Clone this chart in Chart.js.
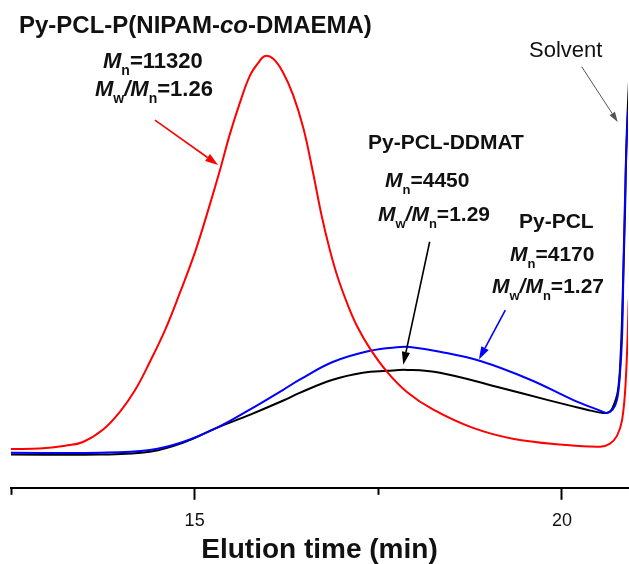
<!DOCTYPE html>
<html>
<head>
<meta charset="utf-8">
<script src="https://cdn.jsdelivr.net/npm/chart.js@4"></script>
<style>
  body { margin: 0; background: #fff; }
  canvas { display: block; }
</style>
</head>
<body>
<canvas id="gpcChart" width="629" height="564"></canvas>
<script>
// GPC traces (time in min, signal in a.u.)
const redTime = [12.5, 12.89, 13.24, 13.48, 13.75, 13.98, 14.19, 14.39, 14.6, 14.8, 15.01, 15.21, 15.35, 15.48, 15.62, 15.75, 15.86, 15.96, 16.07, 16.2, 16.34, 16.48, 16.61, 16.73, 16.84, 16.95, 17.09, 17.21, 17.39, 17.62, 17.89, 18.25, 18.79, 19.33, 20.02, 20.52, 20.65, 20.75, 20.82, 20.87, 20.91, 20.99];
const redSignal = [8.3, 8.4, 9.0, 9.8, 12.4, 16.2, 20.9, 26.9, 33.8, 41.7, 50.6, 60.7, 68.2, 75.6, 82.5, 88.0, 90.7, 92.3, 91.7, 88.9, 84.0, 76.9, 67.5, 58.1, 50.9, 44.9, 38.9, 34.6, 29.7, 24.8, 20.5, 16.7, 12.8, 10.5, 9.2, 8.8, 9.4, 11.1, 14.5, 23.1, 40.2, 82.9];

const blueTime = [12.5, 13.71, 14.39, 14.84, 15.3, 15.75, 16.2, 16.43, 16.88, 17.39, 17.8, 17.93, 18.34, 18.89, 19.57, 20.15, 20.52, 20.61, 20.69, 20.75, 20.79, 20.82, 20.84, 20.87, 20.9, 20.95];
const blueSignal = [7.5, 7.5, 8.1, 9.8, 12.8, 16.7, 20.9, 23.1, 26.9, 29.3, 30.1, 30.1, 29.1, 27.1, 23.1, 18.8, 16.5, 16.0, 16.7, 18.8, 24.2, 32.7, 48.7, 68.0, 80.8, 97.9];

const blackTime = [12.5, 13.71, 14.39, 14.84, 15.3, 15.75, 16.2, 16.43, 16.88, 17.29, 17.62, 17.89, 18.34, 19.11, 19.8, 20.34, 20.56, 20.64, 20.69, 20.76, 20.8, 20.83, 20.86, 20.88, 20.94];
const blackSignal = [7.1, 7.1, 7.7, 9.6, 12.8, 15.6, 18.6, 20.3, 23.1, 24.6, 25.0, 25.2, 24.6, 21.6, 18.8, 16.7, 16.0, 16.2, 17.1, 20.5, 28.4, 42.3, 59.4, 74.4, 95.7];

const seriesNames = ['Py-PCL-P(NIPAM-co-DMAEMA)', 'Py-PCL', 'Py-PCL-DDMAT'];
const majorTicks = [15, 20];
const minorTicks = [12.5, 17.5];

const FONT = '"Liberation Sans", Arial, sans-serif';

function toPoints(xs, ys) {
    return xs.map((x, i) => ({ x, y: ys[i] }));
}

// text + arrow annotations; arrows are given in data units
const arrows = [
    { from: [14.46, 78.6], to: [15.32, 69.0], color: '#ff0000', w: 1.6, head: 13 },
    { from: [18.20, 52.6], to: [17.84, 26.3], color: '#000000', w: 1.6, head: 13 },
    { from: [19.23, 38.0], to: [18.87, 27.4], color: '#0000ff', w: 1.6, head: 13 },
    { from: [20.27, 90.0], to: [20.76, 78.2], color: '#555555', w: 1, head: 10 }
];

const labels = [
    { x: 19, y: 33, size: 24, runs: [{ t: 'Py-PCL-P(NIPAM-' }, { t: 'co', it: 1 }, { t: '-DMAEMA)' }] },
    { x: 103, y: 68, size: 22, runs: [{ t: 'M', it: 1 }, { t: 'n', sub: 1 }, { t: '=11320' }] },
    { x: 95, y: 96, size: 22, runs: [{ t: 'M', it: 1 }, { t: 'w', sub: 1 }, { t: '/', it: 1 }, { t: 'M', it: 1 }, { t: 'n', sub: 1 }, { t: '=1.26' }] },
    { x: 368, y: 149, size: 21, runs: [{ t: 'Py-PCL-DDMAT' }] },
    { x: 385, y: 187, size: 21, runs: [{ t: 'M', it: 1 }, { t: 'n', sub: 1 }, { t: '=4450' }] },
    { x: 378, y: 221, size: 21, runs: [{ t: 'M', it: 1 }, { t: 'w', sub: 1 }, { t: '/', it: 1 }, { t: 'M', it: 1 }, { t: 'n', sub: 1 }, { t: '=1.29' }] },
    { x: 519, y: 228, size: 21, runs: [{ t: 'Py-PCL' }] },
    { x: 510, y: 261, size: 21, runs: [{ t: 'M', it: 1 }, { t: 'n', sub: 1 }, { t: '=4170' }] },
    { x: 492, y: 293, size: 21, runs: [{ t: 'M', it: 1 }, { t: 'w', sub: 1 }, { t: '/', it: 1 }, { t: 'M', it: 1 }, { t: 'n', sub: 1 }, { t: '=1.27' }] },
    { x: 529, y: 57, size: 22, plain: true, runs: [{ t: 'Solvent' }] }
];

function drawRich(ctx, lab) {
    let cx = lab.x;
    lab.runs.forEach(r => {
        const fs = r.sub ? Math.round(lab.size * 0.62) : lab.size;
        const weight = lab.plain ? '' : 'bold ';
        ctx.font = (r.it ? 'italic ' : '') + weight + fs + 'px ' + FONT;
        ctx.fillText(r.t, cx, lab.y + (r.sub ? lab.size * 0.34 : 0));
        cx += ctx.measureText(r.t).width;
    });
}

const annotationPlugin = {
    id: 'annotations',
    afterDraw(chart) {
        const { ctx, scales: { x, y }, chartArea } = chart;
        ctx.save();

        // minor ticks, shorter than the major ones
        ctx.strokeStyle = '#000';
        ctx.lineWidth = 2;
        minorTicks.forEach(v => {
            const px = Math.round(x.getPixelForValue(v)) + 0.5;
            ctx.beginPath();
            ctx.moveTo(px, chartArea.bottom);
            ctx.lineTo(px, chartArea.bottom + 7);
            ctx.stroke();
        });

        arrows.forEach(a => {
            const x0 = x.getPixelForValue(a.from[0]), y0 = y.getPixelForValue(a.from[1]);
            const x1 = x.getPixelForValue(a.to[0]), y1 = y.getPixelForValue(a.to[1]);
            const ang = Math.atan2(y1 - y0, x1 - x0);
            const hx = x1 - a.head * Math.cos(ang), hy = y1 - a.head * Math.sin(ang);
            ctx.strokeStyle = a.color;
            ctx.fillStyle = a.color;
            ctx.lineWidth = a.w;
            ctx.beginPath();
            ctx.moveTo(x0, y0);
            ctx.lineTo(hx, hy);
            ctx.stroke();
            const hw = a.head * 0.32;
            ctx.beginPath();
            ctx.moveTo(x1, y1);
            ctx.lineTo(hx + hw * Math.sin(ang), hy - hw * Math.cos(ang));
            ctx.lineTo(hx - hw * Math.sin(ang), hy + hw * Math.cos(ang));
            ctx.closePath();
            ctx.fill();
        });

        ctx.fillStyle = '#111';
        ctx.textBaseline = 'alphabetic';
        ctx.textAlign = 'left';
        labels.forEach(l => drawRich(ctx, l));
        ctx.restore();
    }
};

const ctx = document.getElementById('gpcChart').getContext('2d');
new Chart(ctx, {
    type: 'line',
    data: {
        datasets: [
            { label: seriesNames[0], data: toPoints(redTime, redSignal), borderColor: '#ff0000' },
            { label: seriesNames[1], data: toPoints(blueTime, blueSignal), borderColor: '#0000ff' },
            { label: seriesNames[2], data: toPoints(blackTime, blackSignal), borderColor: '#000000' }
        ]
    },
    options: {
        responsive: false,
        animation: false,
        layout: { padding: { left: 11, right: 1, top: 20, bottom: 0 } },
        elements: {
            point: { radius: 0 },
            line: { borderWidth: 2, tension: 0.4 }
        },
        plugins: { legend: { display: false }, tooltip: { enabled: false } },
        scales: {
            x: {
                type: 'linear',
                min: 12.5,
                max: 20.9,
                afterBuildTicks: axis => {
                    axis.ticks = [...minorTicks, ...majorTicks].sort((a, b) => a - b).map(value => ({ value }));
                },
                ticks: {
                    autoSkip: false,
                    maxRotation: 0,
                    padding: 10,
                    color: '#111',
                    font: { family: FONT, size: 18 },
                    callback: v => majorTicks.includes(v) ? String(v) : ''
                },
                grid: {
                    drawOnChartArea: false,
                    tickLength: 12,
                    tickWidth: 2,
                    color: c => (c.tick && majorTicks.includes(c.tick.value)) ? '#000' : 'rgba(0,0,0,0)'
                },
                border: { display: true, color: '#000', width: 2 },
                title: {
                    display: true,
                    text: 'Elution time (min)',
                    color: '#111',
                    font: { family: FONT, size: 28, weight: 'bold' },
                    padding: { top: -8, bottom: -3 }
                }
            },
            y: {
                display: false,
                min: 0,
                max: 100
            }
        }
    },
    plugins: [annotationPlugin]
});
</script>
</body>
</html>
